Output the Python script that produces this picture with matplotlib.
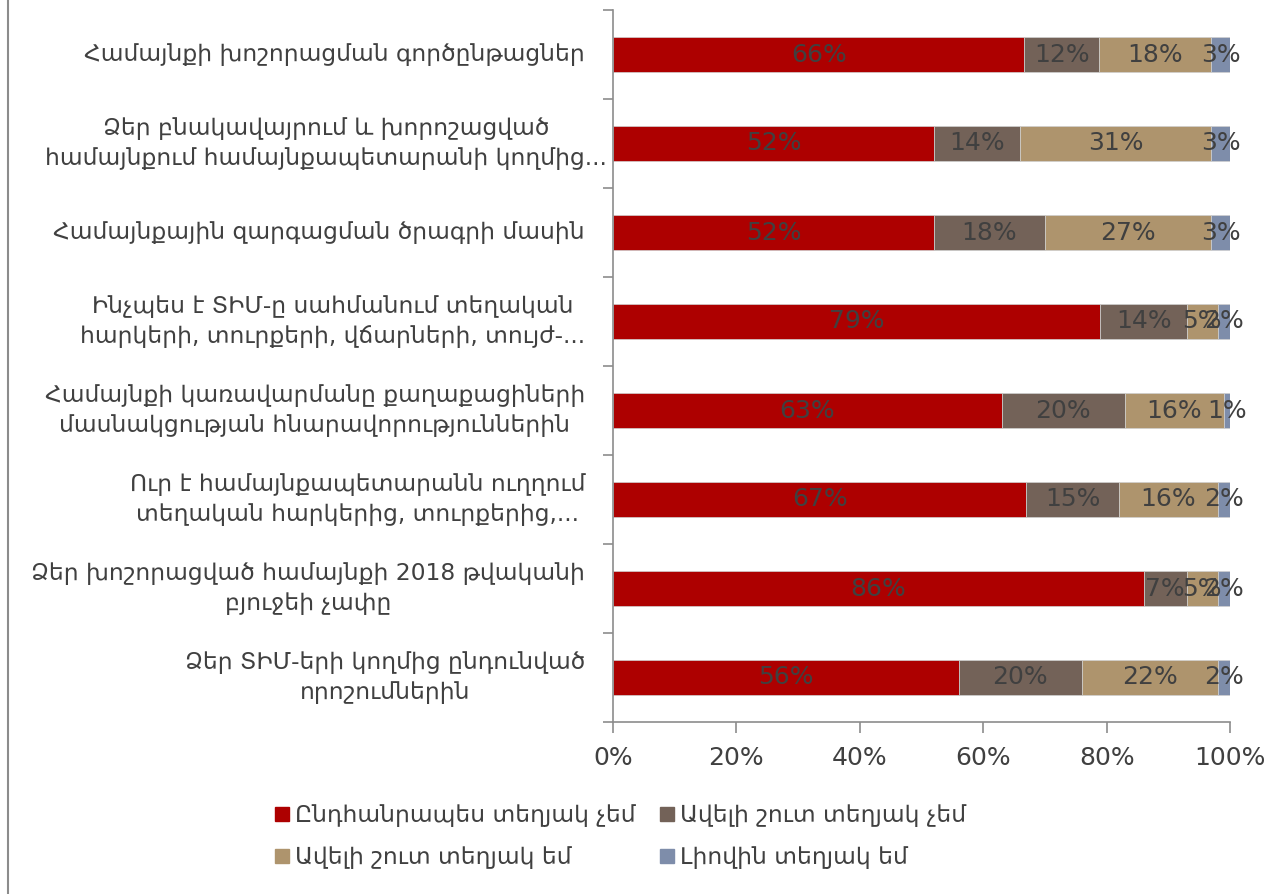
import numpy as np
import matplotlib.pyplot as plt
from matplotlib.lines import Line2D

categories = [
    "Համայնքի խոշորացման գործընթացներ",
    "Ձեր բնակավայրում և խորոշացված\nհամայնքում համայնքապետարանի կողմից...",
    "Համայնքային զարգացման ծրագրի մասին",
    "Ինչպես է ՏԻՄ-ը սահմանում տեղական\nհարկերի, տուրքերի, վճարների, տույժ-...",
    "Համայնքի կառավարմանը քաղաքացիների\nմասնակցության հնարավորություններին",
    "Ուր է համայնքապետարանն ուղղում\nտեղական հարկերից, տուրքերից,...",
    "Ձեր խոշորացված համայնքի 2018 թվականի\nբյուջեի չափը",
    "Ձեր ՏԻՄ-երի կողմից ընդունված\nորոշումներին",
]
series = [
    "Ընդհանրապես տեղյակ չեմ",
    "Ավելի շուտ տեղյակ չեմ",
    "Ավելի շուտ տեղյակ եմ",
    "Լիովին տեղյակ եմ",
]
not_at_all = [66, 52, 52, 79, 63, 67, 86, 56]
rather_not = [12, 14, 18, 14, 20, 15, 7, 20]
rather_yes = [18, 31, 27, 5, 16, 16, 5, 22]
fully = [3, 3, 3, 2, 1, 2, 2, 2]
colors = ["#AD0000", "#736258", "#AE946D", "#7E8DAA"]

plt.rcParams['font.family'] = ['DejaVu Sans']
txt = "#404040"
fs = 18
fs_cat = 16.8

data = np.array([not_at_all, rather_not, rather_yes, fully], dtype=float)
shares = data / data.sum(axis=0)

fig = plt.figure(figsize=(12.66, 8.94), dpi=100)
ax_w = 617
ax = fig.add_axes([613 / 1266, 1 - 722 / 894, ax_w / 1266, 712 / 894])

y = np.arange(len(categories))
left = np.zeros(len(categories))
for k in range(4):
    ax.barh(y, shares[k], left=left, height=0.4, color=colors[k],
            edgecolor="#d0d0d0", linewidth=0.5)
    for i in range(len(categories)):
        ax.text(left[i] + shares[k][i] / 2, y[i], f"{int(data[k][i])}%",
                ha="center", va="center", color=txt, fontsize=fs)
    left += shares[k]

ax.set_xlim(0, 1)
ax.set_ylim(len(categories) - 0.5, -0.5)
ax.set_xticks(np.linspace(0, 1, 6))
ax.set_xticklabels([f"{v}%" for v in range(0, 101, 20)], color=txt, fontsize=fs)

# category labels drawn by hand (the long second one sits closer to the axis)
ax.set_yticks(y)
ax.set_yticklabels([])
lab_tr = ax.get_yaxis_transform()
for i, lab in enumerate(categories):
    gap = 6 if i == 1 else 28
    ax.text(-gap / ax_w, y[i], lab, transform=lab_tr, ha="right", va="center",
            multialignment="center", linespacing=1.35, color=txt,
            fontsize=fs_cat)

ax.set_yticks(np.arange(-0.5, len(categories)), minor=True)
ax.tick_params(axis="y", which="major", length=0)
ax.tick_params(axis="y", which="minor", length=7, color="#8c8c8c", width=1.2)
ax.tick_params(axis="x", length=8, color="#8c8c8c", width=1.2, pad=9)
for s in ["top", "right"]:
    ax.spines[s].set_visible(False)
for s in ["left", "bottom"]:
    ax.spines[s].set_color("#8c8c8c")
    ax.spines[s].set_linewidth(1.2)

# matplotlib fills legend columns first, reorder to get row-wise order
order = [0, 2, 1, 3]
handles = [Line2D([], [], marker="s", linestyle="none", markersize=10,
                  color=colors[j]) for j in order]
fig.legend(handles, [series[j] for j in order], ncol=2, loc="center",
           bbox_to_anchor=(0.49, 0.064), frameon=False, fontsize=fs_cat,
           labelcolor=txt, handletextpad=0.2, columnspacing=1.0,
           labelspacing=0.8, handlelength=0.7)

fig.add_artist(Line2D([8 / 1266, 8 / 1266], [0, 1], color="#8c8c8c", linewidth=1.5))

fig.savefig("out.png", dpi=100)
